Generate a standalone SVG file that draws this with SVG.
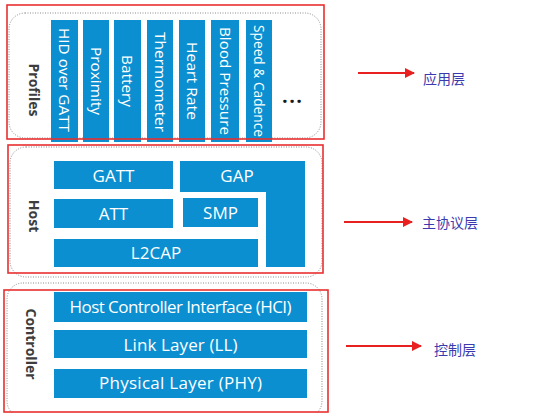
<svg xmlns="http://www.w3.org/2000/svg" width="539" height="413" viewBox="0 0 539 413">
<defs>
<style>
.blk{fill:#0b8fd0}
.dot{fill:none;stroke:#8a8a8a;stroke-width:1;stroke-dasharray:1 1.5}
.red{fill:none;stroke:#e8302f;stroke-width:1.6}
.wt{fill:#fff;font-family:"Open Sans","Noto Sans",sans-serif;font-size:17px;text-anchor:middle}
.ct{fill:#fff;font-family:"Open Sans","Noto Sans",sans-serif;font-size:15px;text-anchor:middle}
.lbl{fill:#3d3d3d;font-family:"Open Sans","Noto Sans",sans-serif;font-size:14px;font-weight:bold;text-anchor:middle}
.cn{fill:#3a3aae;font-family:"Noto Sans CJK SC",sans-serif;font-size:14px}
.arr{stroke:#e8201f;stroke-width:2;fill:none}
</style>
<marker id="ah" viewBox="0 0 10 10" refX="9" refY="5" markerWidth="5" markerHeight="5" markerUnits="strokeWidth" orient="auto">
<path d="M0,0 L10,5 L0,10 z" fill="#e8201f"/>
</marker>
</defs>
<rect width="539" height="413" fill="#fff"/>

<g id="profiles">
<rect class="dot" x="9" y="13" width="312" height="125" rx="16"/>
<text class="lbl" transform="translate(28.5,90) rotate(90)">Profiles</text>
<rect class="blk" x="51" y="20" width="27" height="122"/>
<text class="ct" transform="translate(64.5,80) rotate(90)" y="5.5" textLength="104" lengthAdjust="spacingAndGlyphs">HID over GATT</text>
<rect class="blk" x="83" y="20" width="26" height="122"/>
<text class="ct" transform="translate(96,81) rotate(90)" y="5.5" textLength="68" lengthAdjust="spacingAndGlyphs">Proximity</text>
<rect class="blk" x="114" y="20" width="27" height="122"/>
<text class="ct" transform="translate(127.5,81) rotate(90)" y="5.5" textLength="52" lengthAdjust="spacingAndGlyphs">Battery</text>
<rect class="blk" x="147" y="20" width="26" height="122"/>
<text class="ct" transform="translate(160,82) rotate(90)" y="5.5" textLength="100" lengthAdjust="spacingAndGlyphs">Thermometer</text>
<rect class="blk" x="179" y="20" width="26" height="122"/>
<text class="ct" transform="translate(192,81) rotate(90)" y="5.5" textLength="78" lengthAdjust="spacingAndGlyphs">Heart Rate</text>
<rect class="blk" x="211" y="20" width="28" height="122"/>
<text class="ct" transform="translate(225,81) rotate(90)" y="5.5" textLength="108" lengthAdjust="spacingAndGlyphs">Blood Pressure</text>
<rect class="blk" x="246" y="20" width="26" height="122"/>
<text class="ct" transform="translate(259,81) rotate(90)" y="5.5" textLength="112" lengthAdjust="spacingAndGlyphs">Speed &amp; Cadence</text>
<text x="292" y="103" text-anchor="middle" font-family="Open Sans,sans-serif" font-size="20" font-weight="bold" fill="#1a1a1a" textLength="20">...</text>
<rect class="red" x="7" y="5" width="317" height="134"/>
</g>

<g id="host">
<rect class="dot" x="10" y="147" width="312" height="130" rx="16"/>
<text class="lbl" transform="translate(28.5,216) rotate(90)">Host</text>
<rect class="blk" x="54" y="161" width="119" height="28"/>
<text class="wt" x="113.5" y="181.5">GATT</text>
<path class="blk" d="M180,161 H305 V267 H266 V192 H180 Z"/>
<text class="wt" x="237" y="182">GAP</text>
<rect class="blk" x="54" y="199" width="119" height="29"/>
<text class="wt" x="113.5" y="219.5">ATT</text>
<rect class="blk" x="183" y="198" width="75" height="29"/>
<text class="wt" x="220.5" y="218.5">SMP</text>
<rect class="blk" x="54" y="239" width="204" height="28"/>
<text class="wt" x="156" y="259">L2CAP</text>
<rect class="red" x="8" y="145" width="315" height="128"/>
</g>

<g id="controller">
<rect class="dot" x="7" y="283" width="315" height="134" rx="16"/>
<text class="lbl" transform="translate(25.5,344) rotate(90)">Controller</text>
<rect class="blk" x="54" y="292" width="253" height="30"/>
<text class="wt" x="180.5" y="313" font-size="16" textLength="222">Host Controller Interface (HCI)</text>
<rect class="blk" x="54" y="330" width="253" height="28"/>
<text class="wt" x="180.5" y="350.5" textLength="114">Link Layer (LL)</text>
<rect class="blk" x="54" y="369" width="253" height="29"/>
<text class="wt" x="180.5" y="389" textLength="163">Physical Layer (PHY)</text>
<rect class="red" x="4" y="290" width="324" height="122"/>
</g>

<g id="connectors">
<line class="arr" x1="358" y1="73" x2="414" y2="73" marker-end="url(#ah)"/>
<line class="arr" x1="344" y1="222" x2="412" y2="222" marker-end="url(#ah)"/>
<line class="arr" x1="346" y1="346" x2="421" y2="346" marker-end="url(#ah)"/>
</g>

<g id="labels">
<text class="cn" x="423" y="84">应用层</text>
<text class="cn" x="422" y="228">主协议层</text>
<text class="cn" x="434" y="355">控制层</text>
</g>
</svg>
